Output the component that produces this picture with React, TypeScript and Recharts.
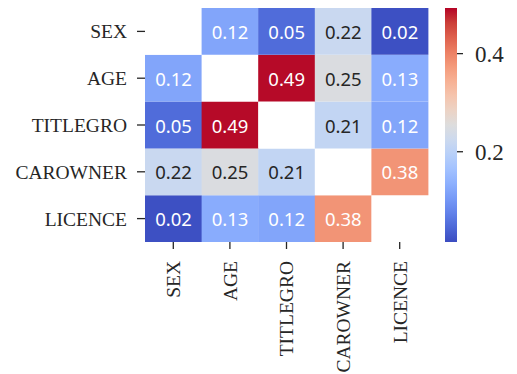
import React from 'react';
import { BarChart, Bar, XAxis, YAxis, Cell, LabelList } from 'recharts';

const rowNames = ['SEX', 'AGE', 'TITLEGRO', 'CAROWNER', 'LICENCE'];
const colNames = ['SEX', 'AGE', 'TITLEGRO', 'CAROWNER', 'LICENCE'];

const sexRow = [null, 0.12, 0.05, 0.22, 0.02];
const ageRow = [0.12, null, 0.49, 0.25, 0.13];
const titlegroRow = [0.05, 0.49, null, 0.21, 0.12];
const carownerRow = [0.22, 0.25, 0.21, null, 0.38];
const licenceRow = [0.02, 0.13, 0.12, 0.38, null];

const matrix = [sexRow, ageRow, titlegroRow, carownerRow, licenceRow];

const colorbarMin = 0.016;
const colorbarMax = 0.493;
const colorbarTicks = [0.2, 0.4];

// coolwarm colormap samples
const cmap: [number, number[]][] = [
  [0.0, [59, 76, 192]],
  [0.0625, [77, 104, 215]],
  [0.125, [98, 130, 234]],
  [0.1875, [119, 154, 247]],
  [0.25, [141, 176, 254]],
  [0.3125, [163, 194, 255]],
  [0.375, [184, 208, 249]],
  [0.4375, [204, 217, 238]],
  [0.5, [221, 221, 221]],
  [0.5625, [236, 211, 197]],
  [0.625, [245, 196, 173]],
  [0.6875, [247, 177, 148]],
  [0.75, [244, 154, 123]],
  [0.8125, [236, 127, 99]],
  [0.875, [222, 96, 77]],
  [0.9375, [203, 62, 56]],
  [1.0, [180, 4, 38]],
];

function cmapRgb(t: number): number[] {
  const x = Math.max(0, Math.min(1, t));
  for (let i = 0; i < cmap.length - 1; i++) {
    const [t0, c0] = cmap[i];
    const [t1, c1] = cmap[i + 1];
    if (x >= t0 && x <= t1) {
      const f = (x - t0) / (t1 - t0);
      return c0.map((v, k) => Math.round(v + (c1[k] - v) * f));
    }
  }
  return cmap[cmap.length - 1][1];
}
const rgbStr = (c: number[]) => `rgb(${c[0]},${c[1]},${c[2]})`;
const norm = (v: number) => (v - colorbarMin) / (colorbarMax - colorbarMin);

function luminance(c: number[]) {
  const lin = c.map((v) => {
    const s = v / 255;
    return s <= 0.03928 ? s / 12.92 : Math.pow((s + 0.055) / 1.055, 2.4);
  });
  return 0.2126 * lin[0] + 0.7152 * lin[1] + 0.0722 * lin[2];
}

const data = colNames.map((c, j) => {
  const d: any = { col: c };
  rowNames.forEach((_, i) => {
    d[`h${i}`] = 1;
    d[`v${i}`] = matrix[i][j];
  });
  return d;
});

const serif = '"Liberation Serif", "Times New Roman", serif';
const sans = '"Noto Sans", "Open Sans", sans-serif';

const XTick = (props: any) => {
  const { x, y, payload } = props;
  return (
    <g transform={`translate(${x},${y})`}>
      <text
        transform="rotate(-90)"
        textAnchor="end"
        dy="0.35em"
        fontFamily={serif}
        fontSize={19.5}
        fill="#262626"
      >
        {payload.value}
      </text>
    </g>
  );
};

const makeLabel = () => (props: any) => {
  const { x, y, width, height, value } = props;
  if (value === null || value === undefined) return null;
  const col = cmapRgb(norm(value));
  const fill = luminance(col) > 0.5 ? '#262626' : '#ffffff';
  return (
    <text
      x={x + width / 2}
      y={y + height / 2}
      textAnchor="middle"
      dominantBaseline="central"
      fontFamily={sans}
      fontSize={18.5}
      fill={fill}
    >
      {value.toFixed(2)}
    </text>
  );
};

const colorbarData = [{ name: 'cb', range: [colorbarMin, colorbarMax] }];

export default function App() {
  const order = [4, 3, 2, 1, 0];
  return (
    <div style={{ position: 'absolute', left: 0, top: 0, width: 517, height: 374, background: '#fff' }}>
      <div style={{ position: 'absolute', left: 0, top: 0 }}>
        <BarChart
          width={517}
          height={374}
          data={data}
          margin={{ top: 8, right: 89, bottom: 0, left: 0 }}
          barCategoryGap={0}
          barGap={0}
        >
          <XAxis
            dataKey="col"
            type="category"
            axisLine={false}
            tickLine={{ stroke: '#262626', strokeWidth: 1.3 }}
            tickSize={7}
            tickMargin={12}
            height={132}
            interval={0}
            tick={<XTick />}
          />
          <YAxis
            type="number"
            domain={[0, 5]}
            ticks={[0.5, 1.5, 2.5, 3.5, 4.5]}
            tickFormatter={(v: number) => rowNames[4 - Math.floor(v)]}
            axisLine={false}
            tickLine={{ stroke: '#262626', strokeWidth: 1.3 }}
            tickSize={8}
            tickMargin={10}
            width={145}
            interval={0}
            tick={{ fontFamily: serif, fontSize: 19.5, fill: '#262626' }}
          />
          {order.map((i) => (
            <Bar key={i} dataKey={`h${i}`} stackId="a" isAnimationActive={false}>
              {data.map((d, j) => (
                <Cell
                  key={j}
                  fill={d[`v${i}`] === null ? '#ffffff' : rgbStr(cmapRgb(norm(d[`v${i}`])))}
                />
              ))}
              <LabelList dataKey={`v${i}`} content={makeLabel()} />
            </Bar>
          ))}
        </BarChart>
      </div>
      <div style={{ position: 'absolute', left: 0, top: 0 }}>
        <BarChart
          width={517}
          height={374}
          data={colorbarData}
          margin={{ top: 8, right: 0, bottom: 132, left: 445 }}
          barCategoryGap={0}
        >
          <defs>
            <linearGradient id="cbGrad" x1="0" y1="1" x2="0" y2="0">
              {cmap.map(([t, c], k) => (
                <stop key={k} offset={`${t * 100}%`} stopColor={rgbStr(c)} />
              ))}
            </linearGradient>
          </defs>
          <XAxis dataKey="name" type="category" hide />
          <YAxis
            orientation="right"
            type="number"
            domain={[colorbarMin, colorbarMax]}
            allowDataOverflow
            ticks={colorbarTicks}
            tickFormatter={(v: number) => v.toFixed(1)}
            axisLine={false}
            tickLine={{ stroke: '#262626', strokeWidth: 1.3 }}
            tickSize={6}
            tickMargin={12}
            width={60}
            tick={{ fontFamily: serif, fontSize: 23, fill: '#262626', textAnchor: 'start' }}
          />
          <Bar dataKey="range" fill="url(#cbGrad)" isAnimationActive={false} />
        </BarChart>
      </div>
    </div>
  );
}
